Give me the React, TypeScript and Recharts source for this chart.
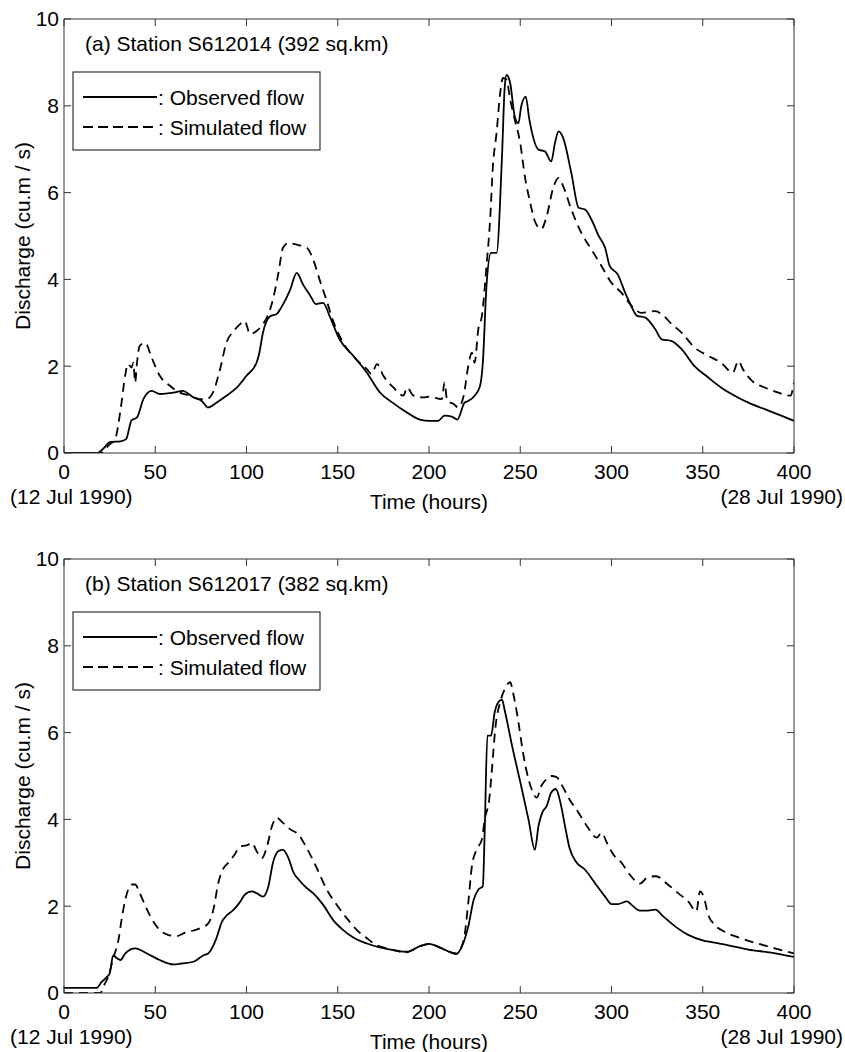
import { LineChart, Line, XAxis, YAxis } from "recharts";

type Pt = [number, number]; // [hour, discharge]

const HOUR_TICKS = [0, 50, 100, 150, 200, 250, 300, 350, 400];
const Q_TICKS = [0, 2, 4, 6, 8, 10];

// (a) Station S612014
const observedA: Pt[] = [
  [0, 0], [18, 0], [22, 0.12], [25, 0.25], [31, 0.27], [34, 0.32], [37, 0.75], [40, 0.82],
  [43.5, 1.24], [48, 1.43], [52.5, 1.36], [60, 1.39], [65, 1.43], [71, 1.28], [75.5, 1.2],
  [79, 1.05], [83.5, 1.16], [89, 1.32], [94.5, 1.5], [100, 1.78], [105.5, 2.08], [107, 2.3],
  [109, 2.77], [113, 3.15], [116.5, 3.2], [119, 3.35], [124, 3.77], [127.5, 4.15], [131, 3.88],
  [135, 3.62], [138, 3.43], [142, 3.46], [145.5, 3.16], [151, 2.62], [158.5, 2.24], [166, 1.85],
  [173, 1.4], [180, 1.16], [188, 0.93], [195, 0.77], [200.5, 0.74], [205, 0.74], [208.5, 0.86],
  [212.5, 0.84], [215.5, 0.77], [219.5, 1.16], [221.5, 1.2], [225, 1.32], [228, 1.55],
  [229.5, 2.08], [231.5, 3.85], [234, 4.61], [237, 4.61], [240, 6.84], [241.5, 8.44],
  [242.5, 8.71], [244.5, 8.52], [247, 7.75], [249, 7.6], [250.5, 7.98], [253, 8.21], [255, 7.68],
  [260, 6.99], [263.5, 6.95], [267, 6.72], [269, 7.14], [271, 7.41], [273.5, 7.26], [278, 6.45],
  [282, 5.65], [285.5, 5.61], [289, 5.38], [293, 5.0], [296.5, 4.73], [299, 4.31], [303.5, 4.11],
  [307.5, 3.69], [310, 3.46], [314, 3.16], [318.5, 3.12], [324, 2.85], [327.5, 2.62], [333, 2.58],
  [338.5, 2.39], [345.5, 2.0], [353, 1.74], [360, 1.51], [367.5, 1.32], [375, 1.16], [384, 1.01],
  [393, 0.86], [400, 0.74],
];

const simulatedA: Pt[] = [
  [0, 0], [20, 0], [25, 0.2], [28, 0.32], [31, 1.0], [33.5, 1.78], [35, 2.05], [37, 1.97],
  [38, 2.08], [39, 1.62], [40, 2.08], [41.5, 2.47], [44.5, 2.54], [48, 2.2], [52.5, 1.78],
  [58, 1.55], [63.5, 1.39], [69, 1.32], [74.5, 1.24], [78, 1.24], [82, 1.43], [85.5, 1.93],
  [89, 2.54], [93, 2.81], [96.5, 2.97], [99, 3.04], [102, 2.74], [105.5, 2.81], [109, 2.97],
  [112, 3.2], [114.5, 3.54], [117.5, 4.15], [120, 4.73], [123, 4.84], [127.5, 4.8], [133, 4.73],
  [136.5, 4.46], [140, 4.0], [144, 3.5], [147.5, 3.04], [153, 2.54], [160, 2.16], [166, 1.93],
  [168.5, 1.82], [171.5, 2.05], [175, 1.78], [180.5, 1.51], [186, 1.32], [188, 1.51],
  [191.5, 1.32], [197, 1.28], [200, 1.3], [207, 1.24], [208.5, 1.62], [210, 1.2], [213.5, 1.13],
  [216, 1.05], [219, 1.32], [221.5, 2.0], [223.5, 2.31], [225, 2.08], [227, 2.85], [229, 3.16],
  [231.5, 4.31], [233.5, 5.38], [235, 6.6], [237, 7.37], [239, 8.29], [240.5, 8.64],
  [242.5, 8.6], [244.5, 8.14], [247, 7.68], [250, 7.14], [252.5, 6.38], [255.5, 5.76],
  [258, 5.34], [261.5, 5.16], [264.5, 5.46], [268, 6.1], [271, 6.34], [273.5, 6.15], [278, 5.61],
  [283.5, 5.07], [289, 4.69], [294.5, 4.31], [300, 3.92], [305.5, 3.69], [311, 3.39],
  [316.5, 3.23], [324, 3.27], [327.5, 3.2], [333, 2.97], [338.5, 2.77], [345.5, 2.43],
  [353, 2.24], [360, 2.08], [366.5, 1.85], [369.5, 2.12], [372, 1.93], [377, 1.66], [384, 1.51],
  [391.5, 1.39], [398, 1.32], [400, 1.62],
];

// (b) Station S612017
const observedB: Pt[] = [
  [0, 0.12], [18, 0.12], [20.5, 0.25], [23.5, 0.37], [25, 0.45], [27, 0.87], [29, 0.8],
  [31, 0.76], [33.5, 0.91], [39, 1.03], [45.5, 0.91], [52.5, 0.76], [60, 0.66], [64.5, 0.68],
  [71, 0.72], [76.5, 0.87], [79, 0.91], [83.5, 1.26], [86.5, 1.64], [89, 1.78], [93, 1.92],
  [96.5, 2.1], [99, 2.26], [103, 2.34], [105.5, 2.3], [109, 2.22], [112, 2.46], [114.5, 3.0],
  [117.5, 3.27], [120, 3.3], [123, 3.11], [125.5, 2.8], [129.5, 2.57], [133, 2.42], [136.5, 2.3],
  [142, 2.03], [147.5, 1.68], [153, 1.45], [158.5, 1.28], [166, 1.14], [173, 1.05],
  [180.5, 0.99], [188, 0.95], [195, 1.08], [200, 1.13], [207, 1.03], [215, 0.9], [218, 1.07],
  [221.5, 1.53], [224.5, 2.15], [227, 2.38], [229.5, 2.46], [230.5, 3.69], [232, 5.93],
  [234, 5.93], [236, 6.47], [238, 6.7], [240, 6.76], [241.5, 6.51], [245.5, 5.7], [250.5, 4.77],
  [254.5, 4.0], [258, 3.3], [260, 3.85], [262, 4.15], [264.5, 4.31], [267, 4.62], [269.5, 4.7],
  [272, 4.39], [274.5, 3.85], [277, 3.34], [281, 3.0], [285.5, 2.84], [291, 2.53], [296.5, 2.22],
  [300, 2.05], [303.5, 2.05], [308.5, 2.11], [311, 2.03], [315.5, 1.9], [320, 1.9], [324, 1.92],
  [328.5, 1.76], [335, 1.53], [342, 1.34], [349.5, 1.22], [356.5, 1.16], [364, 1.1], [375, 1.0],
  [387.5, 0.93], [400, 0.83],
];

const simulatedB: Pt[] = [
  [0, 0], [20, 0], [21.5, 0.14], [24.5, 0.41], [27, 0.8], [30, 1.26], [31.5, 1.68], [34.5, 2.3],
  [37, 2.5], [39, 2.5], [41.5, 2.3], [45.5, 1.92], [49, 1.64], [52.5, 1.45], [57, 1.34],
  [61.5, 1.31], [66.5, 1.39], [71, 1.44], [76.5, 1.53], [79, 1.6], [82, 1.95], [84.5, 2.53],
  [87.5, 2.88], [90, 3.0], [93.5, 3.19], [96.5, 3.38], [100, 3.4], [103, 3.46], [105.5, 3.27],
  [108.5, 3.11], [111, 3.34], [114, 3.85], [116.5, 4.04], [120, 3.92], [124, 3.77],
  [128.5, 3.65], [133, 3.34], [138.5, 2.88], [144, 2.38], [149.5, 2.03], [155, 1.72],
  [160.5, 1.45], [166, 1.26], [171.5, 1.1], [177, 1.03], [182.5, 0.97], [187, 0.93],
  [191.5, 1.0], [197, 1.1], [200, 1.13], [207, 1.03], [215, 0.91], [219, 1.22], [221.5, 2.07],
  [223.5, 2.92], [226, 3.3], [229, 3.54], [230.5, 4.0], [233, 4.46], [234.5, 5.16],
  [236.5, 6.16], [239, 6.7], [241.5, 7.0], [244.5, 7.16], [246, 6.93], [249, 6.24],
  [251.5, 5.54], [254.5, 4.93], [257, 4.62], [259, 4.5], [261.5, 4.77], [264.5, 4.93], [267, 5.0],
  [270, 4.97], [272.5, 4.81], [277, 4.46], [282, 4.15], [286.5, 3.85], [292, 3.58],
  [294.5, 3.69], [297.5, 3.46], [301, 3.19], [305.5, 3.0], [310, 2.73], [315.5, 2.52],
  [320, 2.67], [324.5, 2.69], [330, 2.53], [336.5, 2.3], [342, 2.11], [346.5, 1.88],
  [348.5, 2.34], [350.5, 2.22], [353, 1.8], [356.5, 1.57], [362, 1.41], [369.5, 1.28],
  [378.5, 1.16], [389.5, 1.03], [400, 0.91],
];

const FONT = '"Liberation Sans", Arial, Helvetica, sans-serif';
const INK = "#000";
const FRAME = "#333";

// panel geometry (px)
const W = 845;
const PANEL_H = 540;
const PLOT_L = 64;
const PLOT_R = 794;
const PLOT_T = 19;
const PLOT_H = 434;
const Y_AXIS_W = 60;
const X_AXIS_H = 60;

const toRows = (pts: Pt[]) => pts.map(([t, q]) => ({ t, q }));
const noLabel = () => <g />;

const tickFont = { fontSize: 21, fill: INK, fontFamily: FONT };

interface PanelProps {
  title: string;
  observed: Pt[];
  simulated: Pt[];
  top: number;
}

const Panel = ({ title, observed, simulated, top }: PanelProps) => {
  const textStyle = { fontFamily: FONT, fontSize: 21, fill: INK };
  const legY = PLOT_T + 53;
  return (
    <div style={{ position: "absolute", left: 0, top, width: W, height: PANEL_H }}>
      <LineChart
        width={W}
        height={PANEL_H}
        margin={{
          top: PLOT_T - 1,
          right: W - PLOT_R - 1,
          left: PLOT_L - Y_AXIS_W,
          bottom: PANEL_H - PLOT_T - PLOT_H - X_AXIS_H,
        }}
      >
        <XAxis
          xAxisId="b"
          dataKey="t"
          type="number"
          domain={[0, 400]}
          ticks={HOUR_TICKS}
          interval={0}
          allowDataOverflow
          height={X_AXIS_H}
          tickSize={-7}
          tickMargin={18}
          stroke={FRAME}
          tick={tickFont}
        />
        <XAxis
          xAxisId="t"
          orientation="top"
          dataKey="t"
          type="number"
          domain={[0, 400]}
          ticks={HOUR_TICKS}
          interval={0}
          allowDataOverflow
          height={1}
          tickSize={-7}
          stroke={FRAME}
          tick={noLabel}
        />
        <YAxis
          yAxisId="l"
          type="number"
          domain={[0, 10]}
          ticks={Q_TICKS}
          interval={0}
          allowDataOverflow
          width={Y_AXIS_W}
          tickSize={-7}
          tickMargin={12}
          stroke={FRAME}
          tick={tickFont}
        />
        <YAxis
          yAxisId="r"
          orientation="right"
          type="number"
          domain={[0, 10]}
          ticks={Q_TICKS}
          interval={0}
          allowDataOverflow
          width={1}
          tickSize={-7}
          stroke={FRAME}
          tick={noLabel}
        />
        <Line
          xAxisId="b"
          yAxisId="l"
          data={toRows(observed)}
          dataKey="q"
          type="monotoneX"
          stroke={INK}
          strokeWidth={1.8}
          dot={false}
          isAnimationActive={false}
        />
        <Line
          xAxisId="b"
          yAxisId="l"
          data={toRows(simulated)}
          dataKey="q"
          type="monotoneX"
          stroke={INK}
          strokeWidth={1.8}
          strokeDasharray="9 6"
          dot={false}
          isAnimationActive={false}
        />
      </LineChart>

      <svg
        width={W}
        height={PANEL_H}
        style={{ position: "absolute", left: 0, top: 0, pointerEvents: "none", overflow: "visible" }}
      >
        <text x={85} y={PLOT_T + 32} style={textStyle}>{title}</text>

        <rect x={73} y={legY} width={247} height={78} fill="#fff" stroke={FRAME} strokeWidth={1.2} />
        <line x1={83} x2={157} y1={PLOT_T + 78} y2={PLOT_T + 78} stroke={INK} strokeWidth={1.8} />
        <text x={158} y={PLOT_T + 86} style={textStyle}>: Observed flow</text>
        <line
          x1={83}
          x2={157}
          y1={PLOT_T + 108}
          y2={PLOT_T + 108}
          stroke={INK}
          strokeWidth={1.8}
          strokeDasharray="10 5"
        />
        <text x={158} y={PLOT_T + 116} style={textStyle}>: Simulated flow</text>

        <text
          x={22}
          y={PLOT_T + PLOT_H / 2}
          textAnchor="middle"
          dominantBaseline="central"
          transform={`rotate(-90 22 ${PLOT_T + PLOT_H / 2})`}
          style={textStyle}
        >
          Discharge (cu.m / s)
        </text>

        <text x={10} y={504} style={textStyle}>(12 Jul 1990)</text>
        <text x={(PLOT_L + PLOT_R) / 2} y={509} textAnchor="middle" style={textStyle}>Time (hours)</text>
        <text x={843} y={504} textAnchor="end" style={textStyle}>(28 Jul 1990)</text>
      </svg>
    </div>
  );
};

export default function App() {
  return (
    <div style={{ position: "absolute", left: 0, top: 0, width: W, height: 1052, background: "#fff" }}>
      <Panel title="(a) Station S612014 (392 sq.km)" observed={observedA} simulated={simulatedA} top={0} />
      <Panel title="(b) Station S612017 (382 sq.km)" observed={observedB} simulated={simulatedB} top={540} />
    </div>
  );
}
